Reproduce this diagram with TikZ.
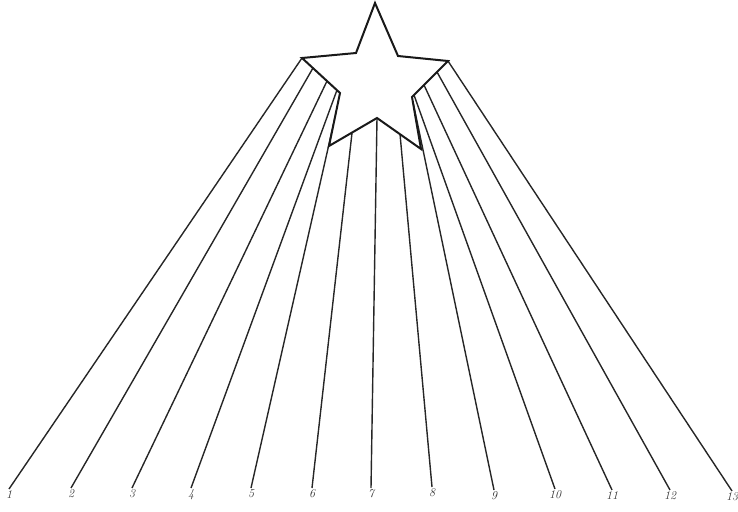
\documentclass[tikz,border=0pt]{standalone}

\begin{document}
\begin{tikzpicture}[
  x=1pt, y=-1pt,
  ray/.style={draw=black!85, line width=1.4pt},
  starline/.style={draw=black!90, line width=2pt, line join=miter},
  num/.style={font=\large\itshape, text=black!80, inner sep=1pt, anchor=north}
]
  \useasboundingbox (0,0) rectangle (738,511);

  % Puntas y vértices interiores de la estrella
  \coordinate (top) at (375,3);
  \coordinate (iul) at (356,53);
  \coordinate (tl) at (302,58);
  \coordinate (ill) at (340,93);
  \coordinate (tbl) at (329,146);
  \coordinate (ib) at (377,118);
  \coordinate (tbr) at (421,149);
  \coordinate (ilr) at (412,97);
  \coordinate (tr) at (448,61);
  \coordinate (iur) at (398,56);

  % Arranque de cada rayo sobre el borde de la estrella
  \coordinate (t1) at (302,58);
  \coordinate (t2) at (313,68);
  \coordinate (t3) at (327,81);
  \coordinate (t4) at (337,90);
  \coordinate (t5) at (339,100);
  \coordinate (t6) at (352,133);
  \coordinate (t7) at (377,118);
  \coordinate (t8) at (400,134);
  \coordinate (t9) at (413,102);
  \coordinate (t10) at (414,95);
  \coordinate (t11) at (424,85);
  \coordinate (t12) at (437,72);
  \coordinate (t13) at (448,61);

  % Números al pie de los rayos
  \node[num] (n1) at (9,489) {1};
  \node[num] (n2) at (71,488) {2};
  \node[num] (n3) at (132,488) {3};
  \node[num] (n4) at (191,488) {4};
  \node[num] (n5) at (251,488) {5};
  \node[num] (n6) at (312,488) {6};
  \node[num] (n7) at (371,488) {7};
  \node[num] (n8) at (432,487) {8};
  \node[num] (n9) at (494,490) {9};
  \node[num] (n10) at (555,489) {10};
  \node[num] (n11) at (612,490) {11};
  \node[num] (n12) at (670,490) {12};
  \node[num] (n13) at (732,491) {13};

  % Rayos de la izquierda
  \draw[ray] (t1) -- (n1.north);
  \draw[ray] (t2) -- (n2.north);
  \draw[ray] (t3) -- (n3.north);
  \draw[ray] (t4) -- (n4.north);
  \draw[ray] (t5) -- (n5.north);
  \draw[ray] (t6) -- (n6.north);

  % Rayo central
  \draw[ray] (t7) -- (n7.north);

  % Rayos de la derecha
  \draw[ray] (t8) -- (n8.north);
  \draw[ray] (t9) -- (n9.north);
  \draw[ray] (t10) -- (n10.north);
  \draw[ray] (t11) -- (n11.north);
  \draw[ray] (t12) -- (n12.north);
  \draw[ray] (t13) -- (n13.north);

  % Contorno de la estrella
  \draw[starline, fill=white] (top) -- (iur) -- (tr) -- (ilr) -- (tbr) -- (ib)
    -- (tbl) -- (ill) -- (tl) -- (iul) -- cycle;
\end{tikzpicture}
\end{document}
